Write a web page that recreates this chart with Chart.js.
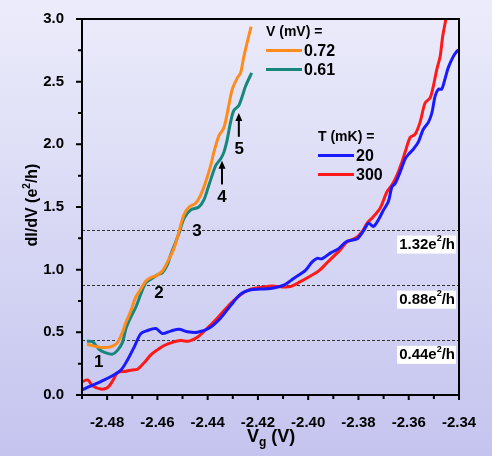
<!DOCTYPE html>
<html>
<head>
<meta charset="utf-8">
<script src="https://cdn.jsdelivr.net/npm/chart.js@4.4.0/dist/chart.umd.min.js"></script>
<style>
  html, body { margin: 0; padding: 0; }
  body { width: 492px; height: 456px; background: linear-gradient(#ececfb, #c4c4ef); }
  canvas { display: block; }
</style>
</head>
<body>
<canvas id="chart" width="492" height="456"></canvas>
<script>
// V = 0.72 mV (orange)
const vg072 = [-2.4880, -2.4851, -2.4825, -2.4798, -2.4778, -2.4758, -2.4739, -2.4725, -2.4706, -2.4686,
  -2.4666, -2.4646, -2.4626, -2.4606, -2.4580, -2.4560, -2.4534, -2.4514, -2.4494, -2.4474,
  -2.4448, -2.4428, -2.4408, -2.4388, -2.4375, -2.4355, -2.4335, -2.4316, -2.4302, -2.4282,
  -2.4269, -2.4256, -2.4242, -2.4227];
const g072 = [0.405, 0.39, 0.38, 0.38, 0.39, 0.42, 0.50, 0.58, 0.67, 0.78,
  0.845, 0.91, 0.937, 0.95, 0.99, 1.06, 1.17, 1.305, 1.44, 1.50,
  1.53, 1.595, 1.70, 1.83, 1.94, 2.07, 2.135, 2.31, 2.44, 2.53,
  2.57, 2.70, 2.82, 2.94];

// V = 0.61 mV (teal)
const vg061 = [-2.4880, -2.4858, -2.4831, -2.4805, -2.4778, -2.4758, -2.4739, -2.4725, -2.4706, -2.4686,
  -2.4666, -2.4646, -2.4626, -2.4600, -2.4580, -2.4560, -2.4547, -2.4514, -2.4494, -2.4467,
  -2.4435, -2.4415, -2.4395, -2.4368, -2.4348, -2.4335, -2.4322, -2.4309, -2.4296, -2.4276,
  -2.4262, -2.4249, -2.4225];
const g061 = [0.43, 0.425, 0.363, 0.336, 0.326, 0.358, 0.42, 0.53, 0.62, 0.70,
  0.806, 0.897, 0.924, 0.958, 0.976, 1.04, 1.12, 1.29, 1.41, 1.477,
  1.50, 1.556, 1.675, 1.83, 1.885, 1.94, 2.04, 2.175, 2.27, 2.31,
  2.385, 2.465, 2.57];

// T = 20 mK (blue)
const vg20 = [-2.4900, -2.4864, -2.4825, -2.4785, -2.4745, -2.4719, -2.4692, -2.4666, -2.4639, -2.4606,
  -2.4580, -2.4547, -2.4514, -2.4481, -2.4441, -2.4395, -2.4348, -2.4309, -2.4269, -2.4229,
  -2.4190, -2.4150, -2.4097, -2.4058, -2.4011, -2.3985, -2.3965, -2.3945, -2.3912, -2.3879,
  -2.3846, -2.3806, -2.3780, -2.3760, -2.3740, -2.3720, -2.3700, -2.3681, -2.3667, -2.3654,
  -2.3634, -2.3614, -2.3601, -2.3581, -2.3562, -2.3542, -2.3522, -2.3508, -2.3495, -2.3482,
  -2.3469, -2.3456, -2.3443, -2.3423, -2.3409, -2.3400];
const g20 = [0.04, 0.073, 0.107, 0.147, 0.20, 0.28, 0.384, 0.49, 0.515, 0.53,
  0.49, 0.51, 0.524, 0.505, 0.50, 0.532, 0.615, 0.713, 0.805, 0.84,
  0.845, 0.85, 0.877, 0.93, 0.995, 1.06, 1.09, 1.087, 1.132, 1.168,
  1.227, 1.245, 1.31, 1.37, 1.345, 1.40, 1.477, 1.543, 1.66, 1.687,
  1.78, 1.885, 1.92, 1.963, 2.017, 2.12, 2.175, 2.25, 2.385, 2.44,
  2.44, 2.52, 2.61, 2.70, 2.74, 2.755];

// T = 300 mK (red)
const vg300 = [-2.4900, -2.4877, -2.4858, -2.4825, -2.4798, -2.4778, -2.4758, -2.4725, -2.4699, -2.4679,
  -2.4653, -2.4626, -2.4600, -2.4573, -2.4540, -2.4507, -2.4474, -2.4441, -2.4401, -2.4362,
  -2.4309, -2.4269, -2.4229, -2.4190, -2.4143, -2.4110, -2.4071, -2.4031, -2.3991, -2.3958,
  -2.3925, -2.3872, -2.3846, -2.3806, -2.3780, -2.3766, -2.3740, -2.3714, -2.3700, -2.3687,
  -2.3667, -2.3647, -2.3627, -2.3614, -2.3594, -2.3575, -2.3555, -2.3535, -2.3515, -2.3502,
  -2.3488, -2.3475, -2.3465, -2.3452];
const g300 = [0.105, 0.12, 0.073, 0.047, 0.06, 0.113, 0.18, 0.19, 0.20, 0.205,
  0.257, 0.32, 0.36, 0.395, 0.42, 0.434, 0.43, 0.46, 0.534, 0.613,
  0.73, 0.80, 0.845, 0.858, 0.87, 0.863, 0.865, 0.905, 0.95, 0.99,
  1.055, 1.16, 1.22, 1.26, 1.32, 1.37, 1.424, 1.49, 1.556, 1.62,
  1.675, 1.753, 1.86, 1.94, 2.056, 2.08, 2.175, 2.33, 2.37, 2.465,
  2.60, 2.70, 2.86, 3.0];

const xTicks = [-2.48, -2.46, -2.44, -2.42, -2.40, -2.38, -2.36, -2.34];
const yTicks = [0.0, 0.5, 1.0, 1.5, 2.0, 2.5, 3.0];
const plateaus = [0.44, 0.88, 1.32];
const plateauLabels = ['0.44', '0.88', '1.32'];

// numbered features: [label, Vg, G]
const marks = [['1', -2.4833, 0.26], ['2', -2.4594, 0.81], ['3', -2.4443, 1.31], ['4', -2.4343, 1.58], ['5', -2.4274, 1.96]];
// arrows: [Vg, G from, G to]
const arrows = [[-2.4343, 1.68, 1.87], [-2.4276, 2.06, 2.25]];

const FONT = '"Liberation Sans", Arial, sans-serif';

function pts(xs, ys) {
  return xs.map((x, i) => ({ x: x, y: ys[i] }));
}

function series(label, xs, ys, color) {
  return {
    label: label,
    data: pts(xs, ys),
    borderColor: color,
    backgroundColor: color,
    borderWidth: 3,
    pointRadius: 0,
    showLine: true,
    tension: 0.3,
    fill: false
  };
}

// draws text with a superscript piece, e.g. "0.88e" + "2" + "/h"
function drawSup(ctx, parts, x, y, size, align) {
  const big = 'bold ' + size + 'px ' + FONT;
  const small = 'bold ' + Math.round(size * 0.62) + 'px ' + FONT;
  ctx.font = big; const w0 = ctx.measureText(parts[0]).width;
  ctx.font = small; const w1 = ctx.measureText(parts[1]).width;
  ctx.font = big; const w2 = ctx.measureText(parts[2]).width;
  const total = w0 + w1 + w2;
  let sx = align === 'right' ? x - total : (align === 'center' ? x - total / 2 : x);
  ctx.textAlign = 'left';
  ctx.textBaseline = 'middle';
  ctx.font = big; ctx.fillText(parts[0], sx, y);
  ctx.font = small; ctx.fillText(parts[1], sx + w0, y - size * 0.38);
  ctx.font = big; ctx.fillText(parts[2], sx + w0 + w1, y);
  return { left: sx, width: total };
}

const decor = {
  id: 'decor',
  beforeDatasetsDraw(chart) {
    const ctx = chart.ctx, a = chart.chartArea, ys = chart.scales.y;
    ctx.save();
    ctx.strokeStyle = '#333';
    ctx.lineWidth = 1;
    ctx.setLineDash([3, 2]);
    plateaus.forEach(p => {
      const y = Math.round(ys.getPixelForValue(p)) + 0.5;
      ctx.beginPath(); ctx.moveTo(a.left, y); ctx.lineTo(a.right, y); ctx.stroke();
    });
    ctx.restore();
  },
  afterDraw(chart) {
    const ctx = chart.ctx, a = chart.chartArea;
    const xs = chart.scales.x, ys = chart.scales.y;
    ctx.save();

    // plateau labels with white boxes
    plateaus.forEach((p, i) => {
      const y = ys.getPixelForValue(p) + 15;
      ctx.font = 'bold 15px ' + FONT;
      const wA = ctx.measureText(plateauLabels[i] + 'e').width;
      ctx.font = 'bold 9px ' + FONT;
      const wB = ctx.measureText('2').width;
      ctx.font = 'bold 15px ' + FONT;
      const wC = ctx.measureText('/h').width;
      const w = wA + wB + wC;
      ctx.fillStyle = '#fff';
      ctx.fillRect(a.right - 4 - w - 2, y - 9, w + 3, 18);
      ctx.fillStyle = '#000';
      drawSup(ctx, [plateauLabels[i] + 'e', '2', '/h'], a.right - 4, y, 15, 'right');
    });

    // frame
    ctx.strokeStyle = '#000';
    ctx.lineWidth = 2;
    ctx.strokeRect(a.left, a.top, a.right - a.left, a.bottom - a.top);

    // ticks
    ctx.lineWidth = 2;
    ctx.beginPath();
    for (let v = -2.49; v <= -2.3395; v += 0.01) {
      const x = xs.getPixelForValue(v);
      const major = Math.abs(Math.round(v * 50) - v * 50) < 1e-6;
      ctx.moveTo(x, a.bottom); ctx.lineTo(x, a.bottom + (major ? 5 : 4));
    }
    for (let v = 0; v <= 3.0001; v += 0.25) {
      const y = ys.getPixelForValue(v);
      const major = Math.abs(Math.round(v * 2) - v * 2) < 1e-6;
      ctx.moveTo(a.left, y); ctx.lineTo(a.left - (major ? 6 : 4), y);
    }
    ctx.stroke();

    // numbered features and arrows
    ctx.fillStyle = '#000';
    ctx.font = 'bold 17px ' + FONT;
    ctx.textAlign = 'center';
    ctx.textBaseline = 'middle';
    marks.forEach(m => ctx.fillText(m[0], xs.getPixelForValue(m[1]), ys.getPixelForValue(m[2])));
    arrows.forEach(r => {
      const x = xs.getPixelForValue(r[0]);
      const y0 = ys.getPixelForValue(r[1]), y1 = ys.getPixelForValue(r[2]);
      ctx.lineWidth = 2;
      ctx.beginPath(); ctx.moveTo(x, y0); ctx.lineTo(x, y1 + 5); ctx.stroke();
      ctx.beginPath(); ctx.moveTo(x, y1); ctx.lineTo(x - 3.5, y1 + 8); ctx.lineTo(x + 3.5, y1 + 8); ctx.closePath(); ctx.fill();
    });

    // legends
    const legend = [
      { title: 'V (mV) =', x: 266, y: 32, items: [['0.72', '#ff8c1a'], ['0.61', '#17877b']] },
      { title: 'T (mK) =', x: 318, y: 137, items: [['20', '#1a1aff'], ['300', '#ff1a1a']] }
    ];
    legend.forEach(l => {
      ctx.font = 'bold 14px ' + FONT;
      ctx.textAlign = 'left';
      ctx.fillText(l.title, l.x, l.y);
      l.items.forEach((it, i) => {
        const y = l.y + 18.5 + i * 19;
        ctx.strokeStyle = it[1];
        ctx.lineWidth = 3;
        ctx.beginPath(); ctx.moveTo(l.x, y); ctx.lineTo(l.x + 36, y); ctx.stroke();
        ctx.font = 'bold 16px ' + FONT;
        ctx.fillText(it[0], l.x + 38, y + 1);
      });
    });

    // axis titles
    ctx.save();
    ctx.translate(33, 205);
    ctx.rotate(-Math.PI / 2);
    ctx.font = 'bold 16px ' + FONT;
    const t1 = 'dI/dV (e';
    ctx.font = 'bold 16px ' + FONT; const w1 = ctx.measureText(t1).width;
    ctx.font = 'bold 10px ' + FONT; const w2 = ctx.measureText('2').width;
    ctx.font = 'bold 16px ' + FONT; const w3 = ctx.measureText('/h)').width;
    drawSup(ctx, [t1, '2', '/h)'], -(w1 + w2 + w3) / 2, 0, 16, 'left');
    ctx.restore();

    ctx.font = 'bold 18px ' + FONT;
    ctx.textAlign = 'left';
    ctx.textBaseline = 'middle';
    const xt = 247;
    ctx.fillText('V', xt, 437);
    const wv = ctx.measureText('V').width;
    ctx.font = 'bold 12px ' + FONT;
    ctx.fillText('g', xt + wv, 443);
    const wg = ctx.measureText('g').width;
    ctx.font = 'bold 18px ' + FONT;
    ctx.fillText(' (V)', xt + wv + wg, 437);

    ctx.restore();
  }
};

new Chart(document.getElementById('chart').getContext('2d'), {
  type: 'scatter',
  data: {
    datasets: [
      series('0.72', vg072, g072, '#ff8c1a'),
      series('0.61', vg061, g061, '#17877b'),
      series('20', vg20, g20, '#1a1aff'),
      series('300', vg300, g300, '#ff1a1a')
    ]
  },
  options: {
    responsive: false,
    animation: false,
    layout: { padding: { top: 17, right: 33, left: 0, bottom: 0 } },
    plugins: { legend: { display: false }, tooltip: { enabled: false } },
    scales: {
      x: {
        type: 'linear',
        min: -2.49,
        max: -2.34,
        afterBuildTicks: s => { s.ticks = xTicks.map(v => ({ value: v })); },
        afterFit: s => { s.height = 61; },
        grid: { display: false },
        border: { display: false },
        ticks: {
          color: '#000',
          padding: 11,
          maxRotation: 0,
          autoSkip: false,
          font: { family: FONT, size: 15, weight: 'bold' },
          callback: v => v.toFixed(2)
        }
      },
      y: {
        type: 'linear',
        min: 0,
        max: 3,
        afterBuildTicks: s => { s.ticks = yTicks.map(v => ({ value: v })); },
        afterFit: s => { s.width = 82; },
        grid: { display: false },
        border: { display: false },
        ticks: {
          color: '#000',
          padding: 10,
          autoSkip: false,
          font: { family: FONT, size: 15, weight: 'bold' },
          callback: v => v.toFixed(1)
        }
      }
    }
  },
  plugins: [decor]
});
</script>
</body>
</html>
